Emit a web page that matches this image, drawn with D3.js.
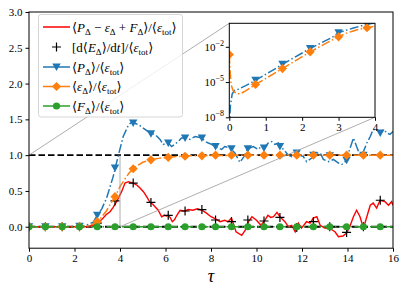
<!DOCTYPE html>
<meta charset="utf-8">
<script src="https://d3js.org/d3.v7.min.js"></script>
<style>
  body { margin: 0; background: #fff; }
  text { font-family: "Liberation Serif", "DejaVu Serif", serif; }
</style>
<body>
<div id="my_dataviz"></div>
<script>

// ---- data ----
// <P_D>/<eps_tot>
var tP = [0, 0.03, 0.08, 0.15, 0.25, 0.45, 0.72, 1.0, 1.46, 1.8, 2.22, 2.53, 2.83, 3.0, 3.2, 3.41, 3.7, 3.93, 4.14, 4.37, 4.51, 4.8, 5.1, 5.32, 5.54, 5.76, 5.9, 6.12, 6.27, 6.4, 6.56, 6.7, 6.86, 7.08, 7.3, 7.6, 7.74, 7.88, 8.03, 8.18, 8.32, 8.47, 8.6, 8.84, 9.05, 9.27, 9.45, 9.62, 9.86, 10.08, 10.2, 10.33, 10.52, 10.67, 10.81, 10.96, 11.18, 11.4, 11.55, 11.77, 11.9, 12.06, 12.2, 12.43, 12.57, 12.8, 12.94, 13.16, 13.38, 13.6, 13.75, 13.9, 14.04, 14.19, 14.26, 14.4, 14.55, 14.7, 14.85, 15.0, 15.13, 15.28, 15.44, 15.6, 15.72, 15.87, 16.0];
var vP = [1e-9, 1e-7, 1e-6, 2e-6, 2.5e-6, 5e-6, 1.4e-5, 4.5e-5, 3.2e-4, 1.3e-3, 7.2e-3, 0.022, 0.065, 0.16, 0.25, 0.4, 0.7, 1.0, 1.26, 1.42, 1.46, 1.43, 1.36, 1.31, 1.29, 1.22, 1.15, 1.17, 1.12, 1.15, 1.19, 1.24, 1.24, 1.22, 1.26, 1.24, 1.19, 1.17, 1.15, 1.12, 1.1, 1.08, 1.12, 1.1, 1.03, 0.9, 0.98, 1.09, 1.12, 1.08, 1.12, 1.1, 1.17, 1.19, 1.15, 1.17, 1.08, 1.0, 0.98, 1.03, 1.0, 0.98, 0.91, 0.96, 1.03, 1.03, 0.94, 0.91, 0.94, 0.89, 0.87, 0.91, 1.03, 1.17, 1.24, 1.12, 1.0, 1.05, 1.17, 1.26, 1.36, 1.36, 1.31, 1.36, 1.31, 1.29, 1.33];

// <eps_D>/<eps_tot>
var tE = [0, 0.02, 0.05, 0.1, 0.2, 0.3, 0.45, 0.72, 1.0, 1.46, 1.8, 2.22, 2.6, 2.8, 3.0, 3.2, 3.4, 3.6, 3.78, 4.0, 4.2, 4.4, 4.58, 4.8, 5.0, 5.36, 5.7, 6.12, 6.5, 7.0, 8.0, 10.0, 16.0];
var vE = [2.2e-3, 1e-4, 6e-6, 2e-6, 1e-6, 1e-6, 1.8e-6, 6.3e-6, 2e-5, 1.4e-4, 6e-4, 3.7e-3, 0.016, 0.035, 0.07, 0.14, 0.22, 0.33, 0.42, 0.56, 0.66, 0.75, 0.81, 0.86, 0.9, 0.935, 0.955, 0.97, 0.98, 0.99, 0.995, 1.0, 1.0];

// <P_D - eps_D + F_D>/<eps_tot>
var tR = [0, 2.6, 2.83, 3.0, 3.2, 3.4, 3.56, 3.7, 3.85, 4.07, 4.22, 4.37, 4.58, 4.75, 4.88, 5.03, 5.17, 5.32, 5.45, 5.54, 5.68, 5.83, 5.95, 6.05, 6.12, 6.2, 6.3, 6.4, 6.5, 6.64, 6.8, 6.86, 7.0, 7.2, 7.4, 7.6, 7.8, 8.0, 8.2, 8.4, 8.6, 8.75, 8.9, 9.1, 9.35, 9.5, 9.64, 9.8, 10.0, 10.2, 10.37, 10.5, 10.62, 10.75, 10.9, 11.03, 11.25, 11.4, 11.55, 11.7, 11.84, 11.98, 12.2, 12.35, 12.5, 12.65, 12.8, 13.0, 13.2, 13.45, 13.6, 13.8, 13.96, 14.1, 14.26, 14.4, 14.55, 14.7, 14.85, 15.0, 15.13, 15.28, 15.43, 15.65, 15.8, 15.94, 16.0];
var vR = [0, 0, 0.02, 0.05, 0.1, 0.17, 0.21, 0.27, 0.35, 0.49, 0.61, 0.63, 0.61, 0.58, 0.54, 0.49, 0.42, 0.34, 0.31, 0.28, 0.23, 0.14, 0.16, 0.15, 0.16, 0.13, 0.07, 0.1, 0.16, 0.23, 0.22, 0.22, 0.24, 0.23, 0.25, 0.23, 0.19, 0.14, 0.11, 0.07, 0.09, 0.07, 0.12, -0.07, -0.12, -0.05, 0.07, 0.14, 0.09, 0.02, 0.09, 0.16, 0.13, 0.14, 0.2, 0.14, 0.07, 0.0, 0.02, -0.07, 0.05, -0.02, 0.07, 0.05, 0.12, 0.14, 0.02, -0.02, -0.02, -0.07, -0.14, -0.13, -0.09, 0.0, 0.14, 0.23, 0.14, -0.02, 0.14, 0.3, 0.33, 0.26, 0.37, 0.35, 0.3, 0.35, 0.3];

// marker times and the marker values of each series
var tMark = [0, 0.72, 1.46, 2.22, 3.0, 3.78, 4.58, 5.36, 6.12, 6.86, 7.6, 8.2, 8.9, 9.62, 10.33, 11.03, 11.77, 12.5, 13.22, 13.96, 14.7, 15.44];
var mP = [1e-9, 1.4e-5, 3.2e-4, 7.2e-3, 0.16, 0.82, 1.45, 1.3, 1.17, 1.24, 1.24, 1.12, 1.09, 1.09, 1.1, 1.12, 1.03, 1.0, 0.99, 0.93, 1.0, 1.31];
var mE = [2.2e-3, 6.3e-6, 1.4e-4, 3.7e-3, 0.07, 0.42, 0.81, 0.935, 0.97, 0.985, 0.99, 1.0, 1.0, 1.0, 1.0, 1.0, 1.0, 1.0, 1.0, 1.0, 1.0, 1.0];
var mF = [0, 0, 0, 0, 0, 0, 0, 0, 0, 0, 0, 0, 0, 0, 0, 0, 0, 0, 0, 0, 0, 0];
var mdE = [0, 0, 0, 0, 0.05, 0.36, 0.61, 0.34, 0.16, 0.22, 0.24, 0.094, 0.07, 0.094, 0.08, 0.13, -0.01, 0.07, 0.0, -0.08, 0.0, 0.37];

var xTicks = [0, 2, 4, 6, 8, 10, 12, 14, 16];
var yTicks = [0, 0.5, 1, 1.5, 2, 2.5, 3];
var xTicksIn = [0, 1, 2, 3, 4];
var yTicksIn = [1e-8, 1e-5, 1e-2];

// ---- layout ----
var W = 407, H = 296;
var svg = d3.select("#my_dataviz").append("svg")
  .attr("width", W).attr("height", H);

var x = d3.scaleLinear().domain([0, 16]).range([29, 393]);
var y = d3.scaleLinear().domain([-0.3, 3]).range([248.2, 12]);
var xi = d3.scaleLinear().domain([0, 4]).range([229.3, 375]);
var yi = d3.scaleLog().domain([1e-8, 1]).range([117.3, 23.3]);

var cBlue = "#1f77b4", cOrange = "#ff7f0e", cGreen = "#2ca02c", cRed = "#ff0000";
var dashDot = "9,2.5,1.5,2.5";

svg.append("clipPath").attr("id", "clipMain").append("rect")
  .attr("x", 29).attr("y", 12).attr("width", 364).attr("height", 236.2);
svg.append("clipPath").attr("id", "clipIn").append("rect")
  .attr("x", 229.3).attr("y", 23.3).attr("width", 145.7).attr("height", 94);

function zip(ts, vs) { return ts.map(function (t, i) { return [t, vs[i]]; }); }

// marker shapes
function triDown(g, px, py, col) {
  g.append("path").attr("d", "M" + (px - 4.2) + "," + (py - 3.5) + "L" + (px + 4.2) + "," + (py - 3.5) + "L" + px + "," + (py + 4) + "Z")
    .attr("fill", col);
}
function diamond(g, px, py, col) {
  g.append("path").attr("d", "M" + px + "," + (py - 4.6) + "L" + (px + 4.6) + "," + py + "L" + px + "," + (py + 4.6) + "L" + (px - 4.6) + "," + py + "Z")
    .attr("fill", col);
}
function dot(g, px, py, col) {
  g.append("circle").attr("cx", px).attr("cy", py).attr("r", 3.6).attr("fill", col);
}
function plus(g, px, py) {
  g.append("path").attr("d", "M" + (px - 4.5) + "," + py + "H" + (px + 4.5) + "M" + px + "," + (py - 4.5) + "V" + (py + 4.5))
    .attr("stroke", "#000").attr("stroke-width", 1.2);
}

// ---- main axes ----
var main = svg.append("g").attr("clip-path", "url(#clipMain)");

// zoom rectangle and connectors (mark_inset)
svg.append("path")
  .attr("d", "M" + x(4) + "," + y(0) + "V" + y(1))
  .attr("stroke", "#999").attr("stroke-width", 0.8).attr("fill", "none");
svg.append("line").attr("x1", x(0)).attr("y1", y(1)).attr("x2", xi.range()[0]).attr("y2", yi.range()[1])
  .attr("stroke", "#999").attr("stroke-width", 0.8);
svg.append("line").attr("x1", x(4)).attr("y1", y(0)).attr("x2", xi.range()[1]).attr("y2", yi.range()[0])
  .attr("stroke", "#999").attr("stroke-width", 0.8);

// reference lines
[0, 1].forEach(function (v) {
  main.append("line").attr("x1", x(0)).attr("x2", x(16)).attr("y1", y(v)).attr("y2", y(v))
    .attr("stroke", "#000").attr("stroke-width", 1.8).attr("stroke-dasharray", "6.5,3");
});

var line = d3.line().x(function (d) { return x(d[0]); }).y(function (d) { return y(d[1]); });

// red balance line
main.append("path").datum(zip(tR, vR)).attr("d", line)
  .attr("fill", "none").attr("stroke", cRed).attr("stroke-width", 1.4);
// crosses
tMark.forEach(function (t, i) { plus(main, x(t), y(mdE[i])); });

// P
main.append("path").datum(zip(tP, vP)).attr("d", line)
  .attr("fill", "none").attr("stroke", cBlue).attr("stroke-width", 1.5).attr("stroke-dasharray", dashDot);
tMark.forEach(function (t, i) { triDown(main, x(t), y(mP[i]), cBlue); });

// eps
main.append("path").datum(zip(tE, vE)).attr("d", line)
  .attr("fill", "none").attr("stroke", cOrange).attr("stroke-width", 1.5).attr("stroke-dasharray", dashDot);
tMark.forEach(function (t, i) { diamond(main, x(t), y(mE[i]), cOrange); });

// F
main.append("path").datum(zip([0, 16], [0, 0])).attr("d", line)
  .attr("fill", "none").attr("stroke", cGreen).attr("stroke-width", 1.5).attr("stroke-dasharray", dashDot);
tMark.forEach(function (t, i) { dot(main, x(t), y(mF[i]), cGreen); });

// frame and axes
svg.append("rect").attr("x", 29).attr("y", 12).attr("width", 364).attr("height", 236.2)
  .attr("fill", "none").attr("stroke", "#000").attr("stroke-width", 1);

var gx = svg.append("g").attr("transform", "translate(0," + 248.2 + ")")
  .call(d3.axisBottom(x).tickValues(xTicks).tickSize(3.5).tickPadding(3).tickFormat(d3.format("d")));
var gy = svg.append("g").attr("transform", "translate(29,0)")
  .call(d3.axisLeft(y).tickValues(yTicks).tickSize(3.5).tickPadding(3).tickFormat(d3.format(".1f")));
[gx, gy].forEach(function (g) {
  g.select(".domain").remove();
  g.selectAll("text").attr("font-family", "Liberation Serif").attr("font-size", 11).attr("fill", "#000");
  g.selectAll("line").attr("stroke", "#000");
});

svg.append("text").attr("x", 211).attr("y", 282).attr("text-anchor", "middle")
  .attr("font-size", 18).attr("font-style", "italic").text("τ");

// ---- legend ----
var leg = svg.append("g");
leg.append("rect").attr("x", 38.5).attr("y", 14.5).attr("width", 144).attr("height", 102.5).attr("rx", 2.5)
  .attr("fill", "#fff").attr("fill-opacity", 0.8).attr("stroke", "#ccc").attr("stroke-width", 0.8);

var sub = function (s) { return { t: s, sub: true }; };
var it = function (s) { return { t: s, it: true }; };
var labels = [
  ["⟨", it("P"), sub("Δ"), " − ", it("ε"), sub("Δ"), " + ", it("F"), sub("Δ"), "⟩/⟨", it("ε"), sub("tot"), "⟩"],
  ["[d⟨", it("E"), sub("Δ"), "⟩/d", it("t"), "]/⟨", it("ε"), sub("tot"), "⟩"],
  ["⟨", it("P"), sub("Δ"), "⟩/⟨", it("ε"), sub("tot"), "⟩"],
  ["⟨", it("ε"), sub("Δ"), "⟩/⟨", it("ε"), sub("tot"), "⟩"],
  ["⟨", it("F"), sub("Δ"), "⟩/⟨", it("ε"), sub("tot"), "⟩"]
];
var legY = [27, 47, 67, 86.5, 106];

labels.forEach(function (parts, k) {
  var cy = legY[k];
  if (k !== 1) {
    var col = [cRed, null, cBlue, cOrange, cGreen][k];
    leg.append("line").attr("x1", 43).attr("x2", 70).attr("y1", cy).attr("y2", cy)
      .attr("stroke", col).attr("stroke-width", 1.5);
  }
  if (k === 1) plus(leg, 56.5, cy);
  if (k === 2) triDown(leg, 56.5, cy, cBlue);
  if (k === 3) diamond(leg, 56.5, cy, cOrange);
  if (k === 4) dot(leg, 56.5, cy, cGreen);

  var txt = leg.append("text").attr("x", 72).attr("y", cy + 4.5).attr("font-size", 13);
  var shifted = false;
  parts.forEach(function (p) {
    if (typeof p === "string") p = { t: p };
    var ts = txt.append("tspan").text(p.t);
    if (p.it) ts.attr("font-style", "italic");
    if (p.sub && !shifted) { ts.attr("dy", 3).attr("font-size", 9); shifted = true; }
    else if (p.sub) { ts.attr("font-size", 9); }
    else if (shifted) { ts.attr("dy", -3); shifted = false; }
  });
});

// ---- inset ----
var inset = svg.append("g");
inset.append("rect").attr("x", 229.3).attr("y", 23.3).attr("width", 145.7).attr("height", 94).attr("fill", "#fff");

var lineIn = d3.line().x(function (d) { return xi(d[0]); }).y(function (d) { return yi(Math.max(d[1], 1e-12)); });
var pin = inset.append("g").attr("clip-path", "url(#clipIn)");

pin.append("path").datum(zip(tP, vP)).attr("d", lineIn)
  .attr("fill", "none").attr("stroke", cBlue).attr("stroke-width", 1.5).attr("stroke-dasharray", dashDot);
tMark.forEach(function (t, i) { if (t <= 4.2) triDown(pin, xi(t), yi(mP[i]), cBlue); });

pin.append("path").datum(zip(tE, vE)).attr("d", lineIn)
  .attr("fill", "none").attr("stroke", cOrange).attr("stroke-width", 1.5).attr("stroke-dasharray", dashDot);
tMark.forEach(function (t, i) { if (t <= 4.2) diamond(pin, xi(t), yi(mE[i]), cOrange); });

inset.append("rect").attr("x", 229.3).attr("y", 23.3).attr("width", 145.7).attr("height", 94)
  .attr("fill", "none").attr("stroke", "#000").attr("stroke-width", 1);

var gxi = inset.append("g").attr("transform", "translate(0,117.3)")
  .call(d3.axisBottom(xi).tickValues(xTicksIn).tickSize(3.5).tickPadding(2).tickFormat(d3.format("d")));
var gyi = inset.append("g").attr("transform", "translate(229.3,0)")
  .call(d3.axisLeft(yi).tickValues(yTicksIn).tickSize(3.5).tickFormat(""));
[gxi, gyi].forEach(function (g) {
  g.select(".domain").remove();
  g.selectAll("text").attr("font-family", "Liberation Serif").attr("font-size", 11).attr("fill", "#000");
  g.selectAll("line").attr("stroke", "#000");
});
yTicksIn.forEach(function (v) {
  var t = inset.append("text").attr("x", 224).attr("y", yi(v) + 4).attr("text-anchor", "end").attr("font-size", 11);
  t.append("tspan").text("10");
  t.append("tspan").attr("dy", -5).attr("font-size", 8).text("−" + Math.round(-Math.log10(v)));
});

</script>
</body>
